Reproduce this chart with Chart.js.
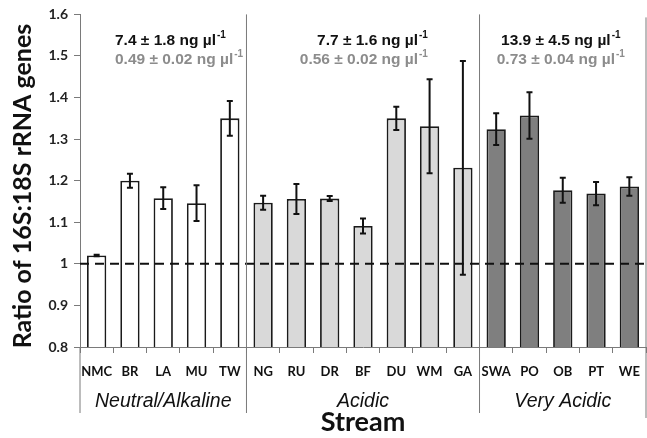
<!DOCTYPE html>
<html>
<head>
<meta charset="utf-8">
<script src="https://cdn.jsdelivr.net/npm/chart.js@4.4.0/dist/chart.umd.min.js"></script>
<style>
  html, body { margin: 0; padding: 0; background: #fff; }
  #wrap { width: 647px; height: 438px; }
</style>
</head>
<body>
<div id="wrap"><canvas id="grafico"></canvas></div>
<script>
// datos
const streams = ['NMC', 'BR', 'LA', 'MU', 'TW', 'NG', 'RU', 'DR', 'BF', 'DU', 'WM', 'GA', 'SWA', 'PO', 'OB', 'PT', 'WE'];
const ratios = [1.02, 1.20, 1.158, 1.146, 1.35, 1.147, 1.156, 1.157, 1.091, 1.35, 1.331, 1.231, 1.324, 1.357, 1.177, 1.169, 1.186];
const errores = [0.002, 0.017, 0.026, 0.043, 0.042, 0.017, 0.036, 0.006, 0.018, 0.028, 0.113, 0.257, 0.038, 0.056, 0.03, 0.028, 0.022];
const grupos = ['Neutral/Alkaline', 'Acidic', 'Very Acidic'];
const tamGrupos = [5, 7, 5];
const coloresGrupos = ['#ffffff', '#d9d9d9', '#7f7f7f'];
const conc16S = ['7.4 \u00b1 1.8 ng \u00b5l', '7.7 \u00b1 1.6 ng \u00b5l', '13.9 \u00b1 4.5 ng \u00b5l'];
const conc18S = ['0.49 \u00b1 0.02 ng \u00b5l', '0.56 \u00b1 0.02 ng \u00b5l', '0.73 \u00b1 0.04 ng \u00b5l'];
const yTicks = [0.8, 0.9, 1, 1.1, 1.2, 1.3, 1.4, 1.5, 1.6];
const referencia = 1;
const tituloY = 'Ratio of 16S:18S rRNA genes';

const colorBarras = [];
tamGrupos.forEach((n, g) => { for (let i = 0; i < n; i++) colorBarras.push(coloresGrupos[g]); });

const lineaGris = '#7a7a7a';
const fuenteEjes = 'Lato, "Open Sans", sans-serif';
// donde va cada texto de concentracion (en unidades de categoria) y como se alinea
const anclaTextos = [1.05, 10.45, 14.44];
const alineaTextos = ['left', 'right', 'center'];

const extras = {
    id: 'extras',
    afterDatasetsDraw(chart) {
        const ctx = chart.ctx;
        const x = chart.scales.x, y = chart.scales.y;
        const area = chart.chartArea;
        const paso = (area.right - area.left) / streams.length;

        // linea de referencia
        ctx.save();
        ctx.strokeStyle = '#111';
        ctx.lineWidth = 2;
        ctx.setLineDash([9, 6]);
        ctx.beginPath();
        const yr = y.getPixelForValue(referencia);
        ctx.moveTo(area.left, yr);
        ctx.lineTo(area.right, yr);
        ctx.stroke();
        ctx.restore();

        // barras de error
        ctx.save();
        ctx.strokeStyle = '#111';
        ctx.lineWidth = 2;
        ratios.forEach((v, i) => {
            const cx = x.getPixelForValue(i);
            const t = y.getPixelForValue(v + errores[i]);
            const b = y.getPixelForValue(v - errores[i]);
            ctx.beginPath();
            ctx.moveTo(cx, t); ctx.lineTo(cx, b);
            ctx.moveTo(cx - 3, t); ctx.lineTo(cx + 3, t);
            ctx.moveTo(cx - 3, b); ctx.lineTo(cx + 3, b);
            ctx.stroke();
        });
        ctx.restore();

        // separadores y etiquetas de grupo
        ctx.save();
        ctx.strokeStyle = lineaGris;
        ctx.lineWidth = 1;
        const abajo = area.bottom + 66;
        ctx.beginPath();
        ctx.moveTo(area.left, area.bottom); ctx.lineTo(area.left, abajo);
        ctx.moveTo(area.right, area.top + 3); ctx.lineTo(area.right, abajo + 5);
        let acum = 0;
        tamGrupos.forEach((n, g) => {
            if (g > 0) {
                const xs = area.left + acum * paso;
                ctx.moveTo(xs, area.top); ctx.lineTo(xs, abajo);
            }
            acum += n;
        });
        ctx.stroke();

        acum = 0;
        tamGrupos.forEach((n, g) => {
            const cx = area.left + (acum + n / 2) * paso;
            ctx.fillStyle = '#111';
            ctx.font = 'italic 19.5px "Liberation Sans", Arial, sans-serif';
            ctx.textAlign = 'center';
            ctx.textBaseline = 'middle';
            ctx.fillText(grupos[g], cx, area.bottom + 55);

            const ax = area.left + anclaTextos[g] * paso;
            escribirConSuper(ctx, conc16S[g], ax, area.top + 26, '#111', alineaTextos[g]);
            escribirConSuper(ctx, conc18S[g], ax, area.top + 45, '#8c8c8c', alineaTextos[g]);
            acum += n;
        });
        ctx.restore();

        // titulo del eje y
        ctx.save();
        ctx.translate(23, 186);
        ctx.rotate(-Math.PI / 2);
        ctx.fillStyle = '#111';
        ctx.font = 'bold 25px ' + fuenteEjes;
        ctx.textAlign = 'center';
        ctx.textBaseline = 'middle';
        ctx.fillText(tituloY, 0, 0);
        ctx.restore();
    }
};

function escribirConSuper(ctx, texto, ax, cy, color, alinea) {
    ctx.save();
    ctx.fillStyle = color;
    ctx.textBaseline = 'middle';
    ctx.textAlign = 'left';
    const fBase = 'bold 15.5px "Liberation Sans", Arial, sans-serif';
    const fSup = 'bold 10px "Liberation Sans", Arial, sans-serif';
    ctx.font = fBase;
    const w1 = ctx.measureText(texto).width;
    ctx.font = fSup;
    const w2 = ctx.measureText('-1').width + 1;
    let x0 = ax;
    if (alinea === 'center') x0 = ax - (w1 + w2) / 2;
    if (alinea === 'right') x0 = ax - (w1 + w2);
    ctx.font = fBase;
    ctx.fillText(texto, x0, cy);
    ctx.font = fSup;
    ctx.fillText('-1', x0 + w1 + 1, cy - 5);
    ctx.restore();
}

new Chart(document.getElementById('grafico'), {
    type: 'bar',
    data: {
        labels: streams,
        datasets: [{
            data: ratios,
            backgroundColor: colorBarras,
            borderColor: '#1a1a1a',
            borderWidth: 1.8,
            borderSkipped: 'bottom',
            categoryPercentage: 1,
            barPercentage: 0.58
        }]
    },
    options: {
        responsive: true,
        maintainAspectRatio: false,
        animation: false,
        layout: { padding: { top: 8, right: 1, left: 0, bottom: 0 } },
        plugins: {
            legend: { display: false },
            tooltip: { enabled: false }
        },
        scales: {
            x: {
                grid: { display: true, drawOnChartArea: false, drawTicks: true, tickLength: 6, color: lineaGris, offset: true },
                border: { display: true, color: lineaGris, width: 1 },
                ticks: {
                    autoSkip: false, maxRotation: 0, padding: 11, color: '#111',
                    font: { family: fuenteEjes, weight: 'bold', size: 13 }
                },
                title: {
                    display: true, text: 'Stream', color: '#111', padding: { top: 26, bottom: 0 },
                    font: { family: fuenteEjes, weight: 'bold', size: 27 }
                },
                afterFit(s) { s.height = 91; s.paddingLeft = 0; s.paddingRight = 0; }
            },
            y: {
                min: 0.8,
                max: 1.6,
                afterBuildTicks(s) { s.ticks = yTicks.map(v => ({ value: v })); },
                grid: { display: true, drawOnChartArea: false, drawTicks: true, tickLength: 6, color: lineaGris },
                border: { display: true, color: lineaGris, width: 1 },
                ticks: {
                    padding: 6, color: '#222',
                    font: { family: fuenteEjes, weight: 'bold', size: 14 },
                    callback: v => String(v)
                },
                afterFit(s) { s.width = 80; }
            }
        }
    },
    plugins: [extras]
});
</script>
</body>
</html>
